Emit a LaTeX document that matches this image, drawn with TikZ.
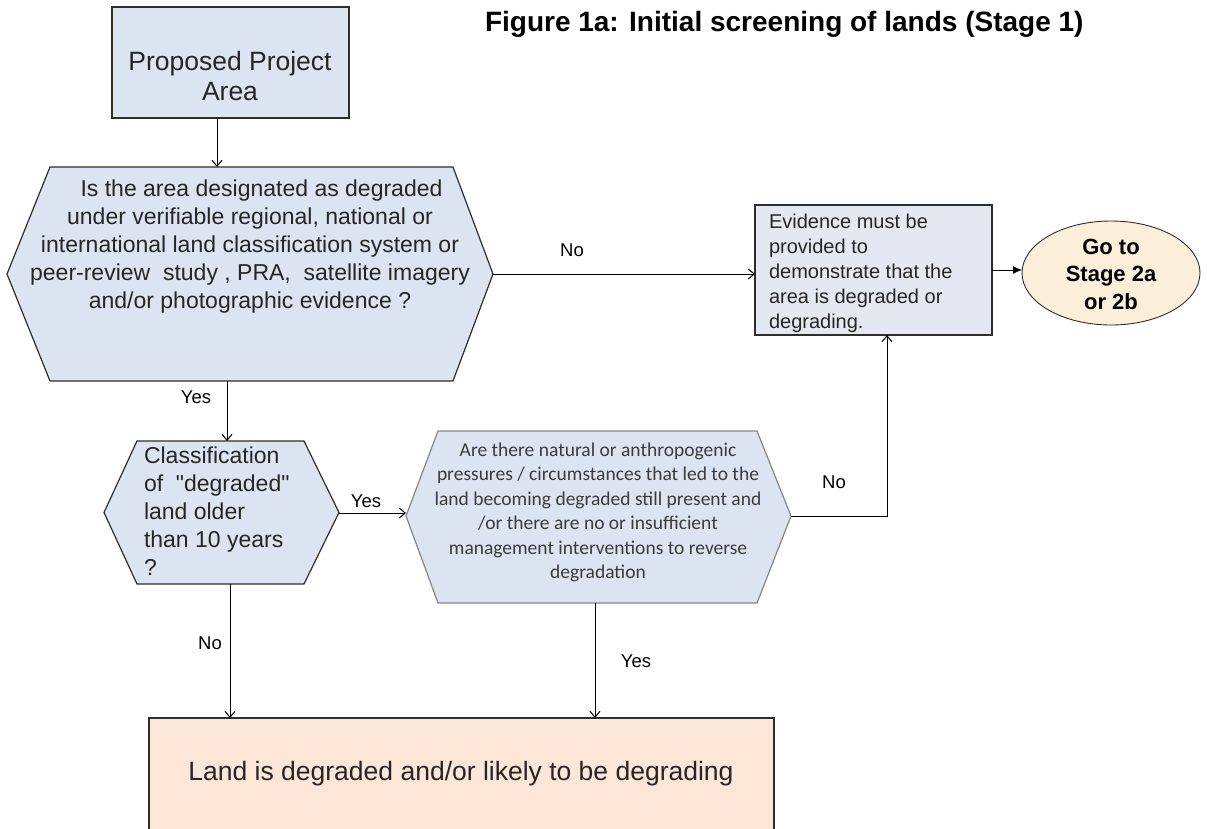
\documentclass[tikz,border=0pt]{standalone}
\usepackage{fontspec}
\setmainfont{Liberation Sans}[Ligatures=TeXOff]
\newfontfamily\calfont{Carlito}
\usetikzlibrary{arrows.meta,shapes.geometric}
\definecolor{hexfill}{HTML}{DBE4F0}
\definecolor{evfill}{HTML}{E4E9F1}
\definecolor{gofill}{HTML}{FCEFD9}
\definecolor{landfill}{HTML}{FBE6D8}
\definecolor{edgec}{HTML}{2E2E2E}
\definecolor{greyedge}{HTML}{858585}
\definecolor{greytext}{HTML}{3C3C3C}
\begin{document}
\begin{tikzpicture}[x=1pt,y=-1pt,
  every node/.style={inner sep=0pt,outer sep=0pt},
  arr/.style={draw=black,line width=1pt,-{Straight Barb[length=6pt,width=10pt,line width=1pt]}},
  shapeline/.style={draw=edgec,line width=1.2pt},
  lbl/.style={font=\fontsize{18.5}{22}\selectfont},
  bigtxt/.style={font=\fontsize{26.5}{30}\selectfont},
  hextxt/.style={font=\fontsize{23}{28}\selectfont}]
\useasboundingbox (0,0) rectangle (1207,828);
\fill[white] (0,0) rectangle (1207,828);

% title
\node[anchor=base west,font=\fontsize{28}{32}\bfseries] (title) at (485,31) {Figure 1a: Initial screening of lands (Stage 1)};

% proposed project area
\node[shapeline,fill=hexfill,anchor=north west,minimum width=237pt,minimum height=111pt] (prop) at (112,7) {};
\node[bigtxt,align=center,anchor=north,text=black!85] (propt) at (230,51.5) {Proposed Project\\Area};

% hexagon 1
\draw[shapeline,fill=hexfill] (50,167) -- (453,167) -- (493,274) -- (453,381) -- (50,381) -- (7,274) -- cycle;
\coordinate (h1n) at (217,167);
\coordinate (h1e) at (493,274);
\coordinate (h1s) at (227,381);
\node[hextxt,align=center,anchor=north,text=black!85] (h1t) at (250,180)
  {\hspace*{1.0em}Is the area designated as degraded\\
   under verifiable regional, national or\\
   international land classification system or\\
   peer-review\ \ study , PRA,\ \ satellite imagery\\
   and/or photographic evidence ?};

% evidence box
\node[shapeline,fill=evfill,anchor=north west,minimum width=237pt,minimum height=130pt] (ev) at (755,205) {};
\node[align=left,anchor=north west,text=black!85,font=\fontsize{20}{25}\selectfont] (evt) at (769,214.5)
  {Evidence must be\\provided to\\demonstrate that the\\area is degraded or\\degrading.};

% go to ellipse
\node[ellipse,draw=edgec,line width=0.9pt,fill=gofill,minimum width=178pt,minimum height=104pt] (go) at (1111,273) {};
\node[align=center,anchor=north,font=\fontsize{22}{27.5}\bfseries] (gotxt) at (1111,239) {Go to\\Stage 2a\\or 2b};

% hexagon 2
\draw[shapeline,fill=hexfill] (137,441) -- (304,441) -- (339,512.5) -- (304,584) -- (137,584) -- (104,512.5) -- cycle;
\coordinate (h2n) at (227,441);
\coordinate (h2e) at (339,513);
\coordinate (h2s) at (230,584);
\node[hextxt,align=left,anchor=north west,text=black!85] (h2t) at (144,446.5)
  {Classification\\of\ \ "degraded"\\land older\\than 10 years\\?};

% hexagon 3
\draw[draw=greyedge,line width=1.2pt,fill=hexfill] (438,431) -- (757,431) -- (791,516) -- (757,603) -- (438,603) -- (406,516) -- cycle;
\coordinate (h3w) at (406,516);
\coordinate (h3e) at (791,516);
\coordinate (h3s) at (595,603);
\node[align=center,anchor=north,text=greytext,font=\calfont\fontsize{19.5}{24.4}\selectfont] (h3t) at (598,443)
  {Are there natural or anthropogenic\\
   pressures / circumstances that led to the\\
   land becoming degraded still present and\\
   /or there are no or insufficient\\
   management interventions to reverse\\
   degradation};

% bottom box
\node[fill=landfill,anchor=north west,minimum width=625pt,minimum height=111pt] (land) at (149,718) {};
\draw[shapeline] (land.south west) -- (land.north west) -- (land.north east) -- (land.south east);
\node[bigtxt,anchor=base,text=black!85] (landt) at (461,780) {Land is degraded and/or likely to be degrading};

% connectors
\draw[arr] (prop.south -| h1n) -- (h1n);
\draw[arr] (h1e) -- (h1e -| ev.west);
\node[lbl] (lno1) at (572,250) {No};
\draw[black,line width=1pt,-{Latex[length=9pt,width=8pt]}] (ev.east) -- (ev.east -| go.west);
\draw[arr] (h1s) -- (h2n);
\node[lbl] (lyes1) at (196,397) {Yes};
\draw[arr] (h2e) -- (h2e -| h3w);
\node[lbl] (lyes2) at (366,501) {Yes};
\draw[arr] (h3e) -| ([xshift=13.5pt]ev.south);
\node[lbl] (lno2) at (834,482) {No};
\draw[arr] (h3s) -- (h3s |- land.north);
\node[lbl] (lyes3) at (636,661) {Yes};
\draw[arr] (h2s) -- (h2s |- land.north);
\node[lbl] (lno3) at (210,643) {No};
\end{tikzpicture}
\end{document}
